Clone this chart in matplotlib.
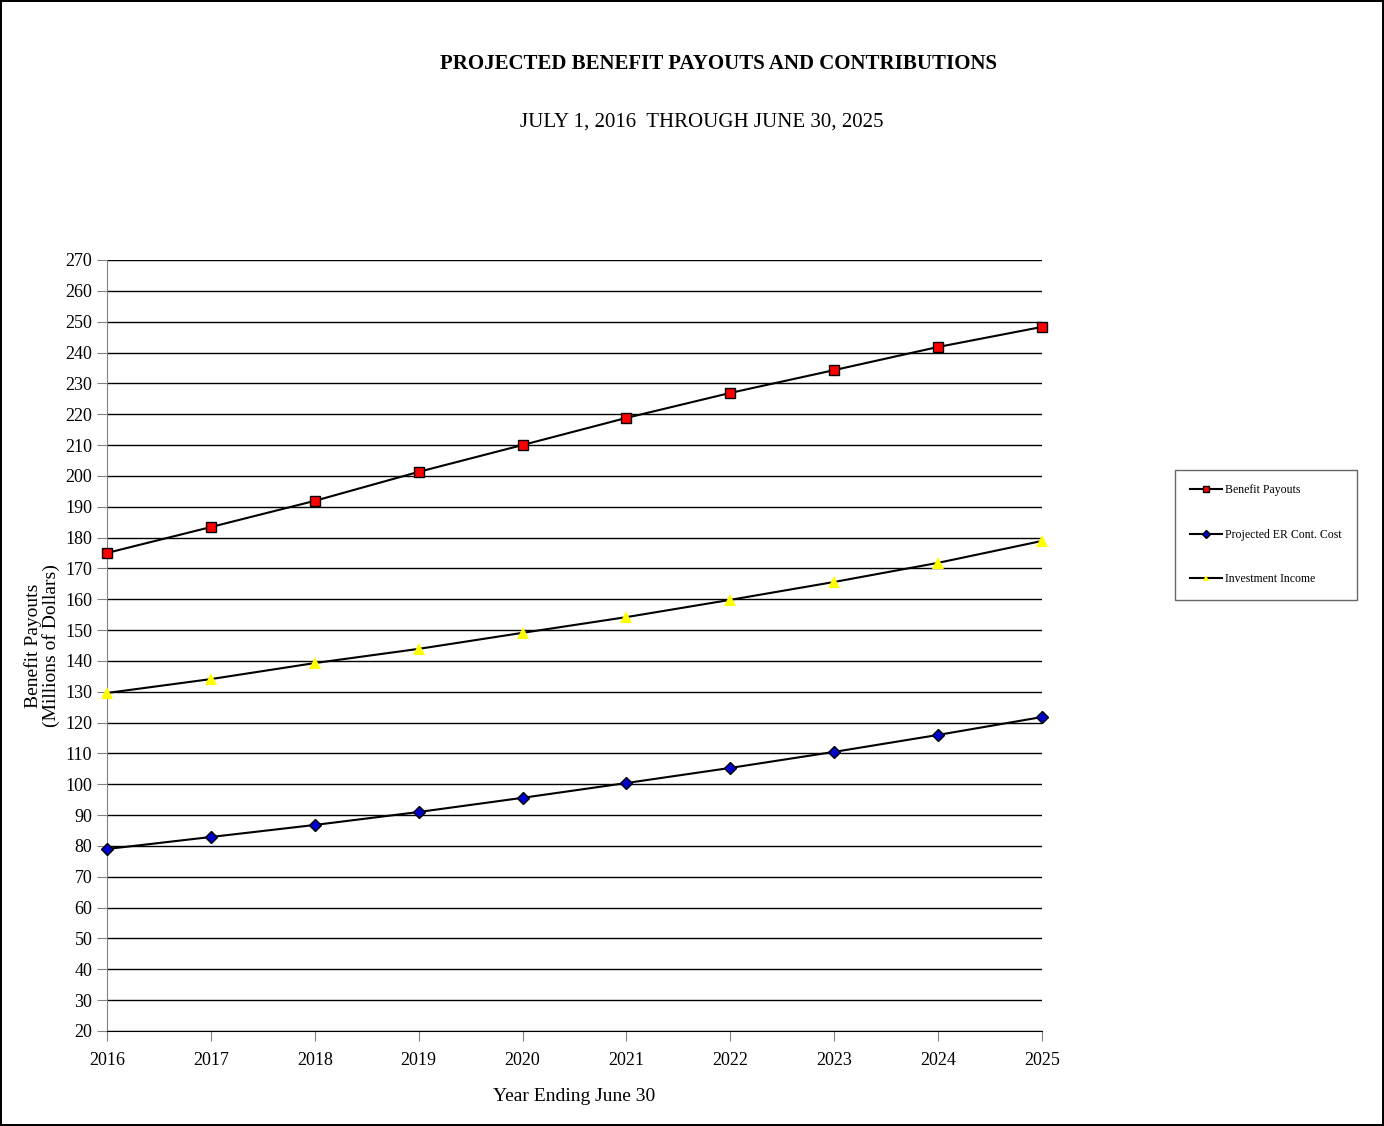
import matplotlib.pyplot as plt
import numpy as np

plt.rcParams['font.family'] = ['Liberation Serif', 'DejaVu Serif']

years = [2016, 2017, 2018, 2019, 2020, 2021, 2022, 2023, 2024, 2025]
benefit_payouts = [175.0, 183.4, 191.9, 201.3, 210.0, 218.8, 226.9, 234.3, 241.8, 248.3]
er_cont_cost = [79.0, 82.9, 86.8, 91.0, 95.6, 100.4, 105.3, 110.5, 116.0, 121.8]
invest_income = [129.6, 134.1, 139.3, 143.9, 149.1, 154.2, 159.8, 165.6, 171.8, 178.9]
yticks = list(range(20, 271, 10))

fig = plt.figure(figsize=(13.84, 11.26), dpi=100)
fig.patch.set_edgecolor('black')
fig.patch.set_linewidth(1.5)
ax = fig.add_axes([0.0773, 0.0844, 0.6756, 0.6847])

ax.plot(years, benefit_payouts, color='black', lw=1.5, marker='s', ms=7.5,
        mfc='red', mec='black', mew=1, label='Benefit Payouts', zorder=3, clip_on=False)
ax.plot(years, er_cont_cost, color='black', lw=1.5, marker='D', ms=6.5,
        mfc='#0000cc', mec='black', mew=1, label='Projected ER Cont. Cost', zorder=3, clip_on=False)
ax.plot(years, invest_income, color='black', lw=1.5, marker='^', ms=8,
        mfc='yellow', mec='yellow', mew=0, label='Investment Income', zorder=3, clip_on=False)

ax.set_xlim(2016, 2025)
ax.set_ylim(20, 270)
ax.set_xticks(years)
ax.set_yticks(yticks)
ax.yaxis.grid(True, color='black', lw=1)
ax.set_axisbelow(True)
for s in ['top', 'right']:
    ax.spines[s].set_visible(False)
ax.spines['left'].set_color('#808080')
ax.spines['bottom'].set_color('black')
ax.tick_params(axis='both', labelsize=13, length=7, color='#808080')
ax.tick_params(axis='x', pad=8)

ax.set_xlabel('Year Ending June 30', fontsize=14, labelpad=14)
ax.set_ylabel('Benefit Payouts\n(Millions of Dollars)', fontsize=14, labelpad=4, linespacing=1.0)

fig.text(0.519, 0.943, 'PROJECTED BENEFIT PAYOUTS AND CONTRIBUTIONS', ha='center', va='center',
         fontsize=15, fontweight='bold')
fig.text(0.507, 0.892, 'JULY 1, 2016  THROUGH JUNE 30, 2025', ha='center', va='center', fontsize=15)

leg = fig.legend(loc='upper left', bbox_to_anchor=(0.849, 0.583), fontsize=8.5,
                 frameon=True, fancybox=False, edgecolor='#404040', labelspacing=2.75,
                 handlelength=2.7, handletextpad=0.3, markerscale=0.6, borderpad=1.25,
                 borderaxespad=0)
leg.get_frame().set_linewidth(1)

fig.savefig('out.png', dpi=100)
